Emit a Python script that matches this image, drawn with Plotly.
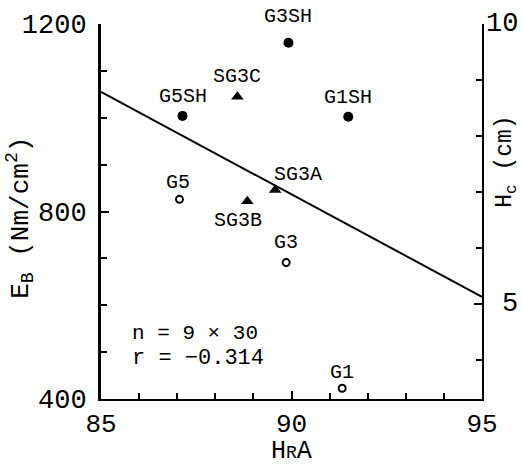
import plotly.graph_objects as go

# Sheath-type samples (filled circles)
sh_labels = ["G3SH", "G5SH", "G1SH"]
sh_hra = [89.92, 87.14, 91.49]
sh_eb = [1160, 1004, 1002]

# SG3 samples (filled triangles)
sg_labels = ["SG3C", "SG3A", "SG3B"]
sg_hra = [88.58, 89.57, 88.84]
sg_eb = [1045, 846, 822]

# Plain samples (open circles)
g_labels = ["G5", "G3", "G1"]
g_hra = [87.06, 89.86, 91.33]
g_eb = [826, 691, 423]

# Regression line end points
fit_hra = [85, 95]
fit_eb = [1055, 618]

# Axis ranges and tick labels
x_range = [85, 95]
x_ticks = [85, 90, 95]
y_range = [400, 1200]
y_ticks = [400, 800, 1200]
y2_range = [3.3, 10]
y2_ticks = [5, 10]

n_text = "n = 9 × 30"
r_text = "r = −0.314"

FONT = "Liberation Mono"
INK = "black"

fig = go.Figure()
fig.add_trace(go.Scatter(x=sh_hra, y=sh_eb, mode="markers",
                         marker=dict(symbol="circle", size=10, color=INK)))
fig.add_trace(go.Scatter(x=sg_hra, y=sg_eb, mode="markers",
                         marker=dict(symbol="triangle-up", size=11, color=INK)))
fig.add_trace(go.Scatter(x=g_hra, y=g_eb, mode="markers",
                         marker=dict(symbol="circle-open", size=7, color=INK,
                                     line=dict(width=2, color=INK))))
fig.add_trace(go.Scatter(x=fit_hra, y=fit_eb, mode="lines",
                         line=dict(color=INK, width=2)))
# invisible trace so the right-hand H_c axis is drawn
fig.add_trace(go.Scatter(x=[x_range[0]], y=[y2_ticks[0]], yaxis="y2", mode="markers",
                         marker=dict(opacity=0), hoverinfo="skip"))

# point label offsets in pixels
offsets = {
    "G3SH": (0, 26), "G5SH": (0, 19), "G1SH": (0, 19),
    "SG3C": (0, 20), "SG3A": (23, 15), "SG3B": (-9, -19),
    "G5": (-1, 17), "G3": (0, 20), "G1": (0, 16),
}
annotations = []
for labs, xs, ys in [(sh_labels, sh_hra, sh_eb), (sg_labels, sg_hra, sg_eb),
                     (g_labels, g_hra, g_eb)]:
    for lab, xv, yv in zip(labs, xs, ys):
        dx, dy = offsets[lab]
        annotations.append(dict(x=xv, y=yv, xref="x", yref="y", text=lab,
                                showarrow=False, xshift=dx, yshift=dy,
                                xanchor="center", yanchor="middle",
                                font=dict(family=FONT, size=20, color=INK)))

# right-hand tick labels
for v in y2_ticks:
    annotations.append(dict(x=1.0997, y=v, xref="paper", yref="y2", text=str(v),
                            showarrow=False, xanchor="right", yanchor="middle",
                            font=dict(family=FONT, size=27, color=INK)))


def note(x, y, text, size, angle=0, xanchor="center"):
    return dict(x=x, y=y, xref="paper", yref="paper", text=text, showarrow=False,
                textangle=angle, xanchor=xanchor, yanchor="middle",
                font=dict(family=FONT, size=size, color=INK))


# axis titles and statistics
annotations += [
    note(-0.2126, 0.483, "E<sub>B</sub> (Nm/cm<sup>2</sup>)", 26, angle=-90),
    note(1.0656, 0.635, "H<sub>c</sub> (cm)", 23, angle=-90),
    note(0.501, -0.14, "H<span style='font-size:18px'>R</span>A", 25),
    note(0.076, 0.176, n_text, 21, xanchor="left"),
    note(0.076, 0.109, r_text, 22, xanchor="left"),
]

axis_common = dict(showgrid=False, zeroline=False, showline=True, linecolor=INK,
                   ticks="inside", tickcolor=INK, tickwidth=2, ticklen=8,
                   tickfont=dict(family=FONT, size=27, color=INK))

fig.update_layout(
    width=523, height=468,
    margin=dict(l=101, r=41, t=24, b=69),
    paper_bgcolor="white", plot_bgcolor="white",
    showlegend=False,
    xaxis=dict(range=x_range, tickvals=x_ticks, linewidth=2,
               minor=dict(dtick=1, ticks="inside", ticklen=6, tickwidth=2, tickcolor=INK),
               **{**axis_common, "tickfont": dict(family=FONT, size=26, color=INK)}),
    yaxis=dict(range=y_range, tickvals=y_ticks, linewidth=3, ticklabelstandoff=6,
               minor=dict(dtick=100, ticks="inside", ticklen=6, tickwidth=2, tickcolor=INK),
               **axis_common),
    yaxis2=dict(range=y2_range, overlaying="y", side="right", tickvals=y2_ticks,
                showticklabels=False, linewidth=2, anchor="x",
                minor=dict(dtick=1, ticks="inside", ticklen=6, tickwidth=2, tickcolor=INK),
                **axis_common),
    annotations=annotations,
)

fig.write_html("out.html")
